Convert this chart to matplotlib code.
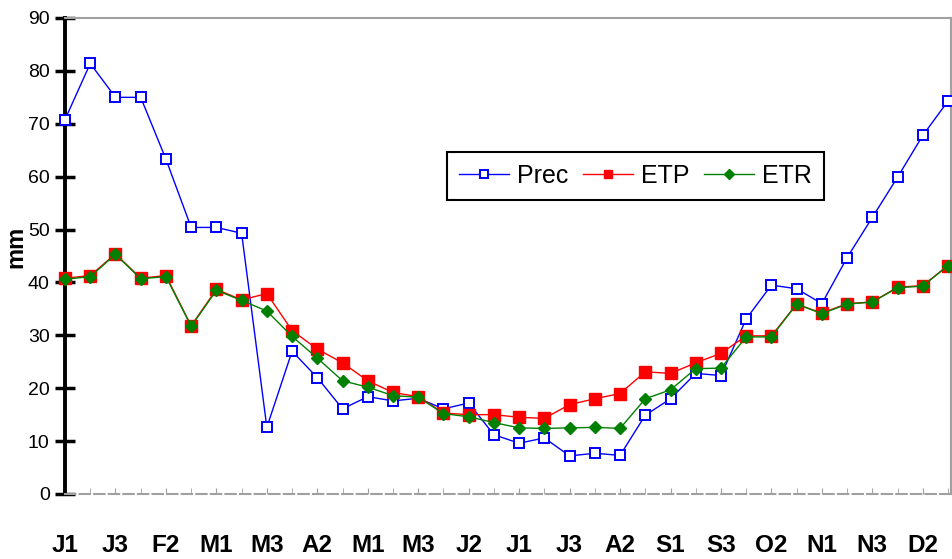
import numpy as np
import matplotlib
matplotlib.use('Agg')
import matplotlib.pyplot as plt
from matplotlib.ticker import MultipleLocator

# dekads J1..D3 (36 points), labels shown every second one
dekads = ['J1', 'J2', 'J3', 'F1', 'F2', 'F3', 'M1', 'M2', 'M3',
          'A1', 'A2', 'A3', 'M1', 'M2', 'M3', 'J1', 'J2', 'J3',
          'J1', 'J2', 'J3', 'A1', 'A2', 'A3', 'S1', 'S2', 'S3',
          'O1', 'O2', 'O3', 'N1', 'N2', 'N3', 'D1', 'D2', 'D3']

prec = [70.8, 81.4, 75.0, 75.0, 63.3, 50.4, 50.4, 49.3, 12.6,
        27.0, 22.0, 16.1, 18.4, 17.6, 18.1, 16.1, 17.2, 11.2,
        9.6, 10.6, 7.2, 7.7, 7.3, 14.9, 18.0, 22.8, 22.4,
        33.1, 39.5, 38.8, 36.0, 44.7, 52.3, 59.9, 67.8, 74.3]

etp = [40.8, 41.3, 45.4, 40.8, 41.3, 31.8, 38.7, 36.7, 37.9,
       30.9, 27.4, 24.8, 21.4, 19.2, 18.4, 15.3, 15.0, 15.0,
       14.5, 14.3, 16.9, 18.0, 19.0, 23.1, 22.8, 24.8, 26.6,
       29.9, 29.9, 35.9, 34.2, 36.0, 36.3, 39.1, 39.4, 43.2]

etr = [40.6, 41.1, 45.3, 40.7, 41.1, 31.7, 38.5, 36.6, 34.6,
       29.8, 25.7, 21.4, 20.2, 18.6, 18.3, 15.2, 14.6, 13.5,
       12.5, 12.4, 12.5, 12.6, 12.4, 18.0, 19.7, 23.7, 23.8,
       29.7, 29.7, 35.9, 34.1, 35.9, 36.3, 39.0, 39.3, 43.2]


def main():
    plt.rcParams['font.family'] = ['Liberation Sans', 'DejaVu Sans']

    fig = plt.figure(figsize=(9.52, 5.59), dpi=100)
    ax = fig.add_axes([0.0683, 0.1163, 0.9307, 0.8515])

    x = np.arange(len(dekads))
    ax.plot(x, prec, color='#0000ff', lw=1.0, marker='s', ms=7.5,
            mfc='white', mec='#0000ff', mew=1.4, label='Prec', clip_on=False, zorder=3)
    ax.plot(x, etp, color='#ff0000', lw=1.0, marker='s', ms=8.5,
            mfc='#ff0000', mec='#ff0000', label='ETP', clip_on=False, zorder=4)
    ax.plot(x, etr, color='#008000', lw=1.0, marker='D', ms=6.5,
            mfc='#008000', mec='#008000', label='ETR', clip_on=False, zorder=5)

    ax.set_xlim(0, 35.12)
    ax.set_ylim(0, 90)
    ax.yaxis.set_major_locator(MultipleLocator(10))

    ax.set_xticks(x[::2])
    ax.set_xticklabels(dekads[::2], fontsize=17.5, fontweight='bold')
    ax.set_xticks(x, minor=True)
    ax.tick_params(axis='x', which='major', length=4, direction='in',
                   color='#a0a0a0', pad=29)
    ax.tick_params(axis='x', which='minor', length=4, direction='in',
                   color='#a0a0a0')
    ax.tick_params(axis='y', length=14, width=2.5, direction='inout',
                   labelsize=14, pad=4)

    ax.spines['left'].set_linewidth(2.8)
    ax.spines['left'].set_color('black')
    for s in ['top', 'right']:
        ax.spines[s].set_color('#a0a0a0')
        ax.spines[s].set_linewidth(1.5)
    ax.spines['bottom'].set_color('#a0a0a0')
    ax.spines['bottom'].set_linewidth(1.5)
    ax.spines['bottom'].set_linestyle((0, (5, 2)))

    ax.set_ylabel('mm', fontsize=17, fontweight='bold')
    ax.yaxis.set_label_coords(-0.043, 0.52)

    leg = ax.legend(ncol=3, loc='center', bbox_to_anchor=(0.644, 0.668),
                    fontsize=18, fancybox=False, framealpha=1,
                    edgecolor='black', handlelength=2.0, handletextpad=0.3,
                    columnspacing=0.6, borderpad=0.48, markerscale=0.75)
    leg.get_frame().set_linewidth(1.5)

    fig.savefig('out.png', dpi=100)
    plt.close(fig)


if __name__ == '__main__':
    main()
